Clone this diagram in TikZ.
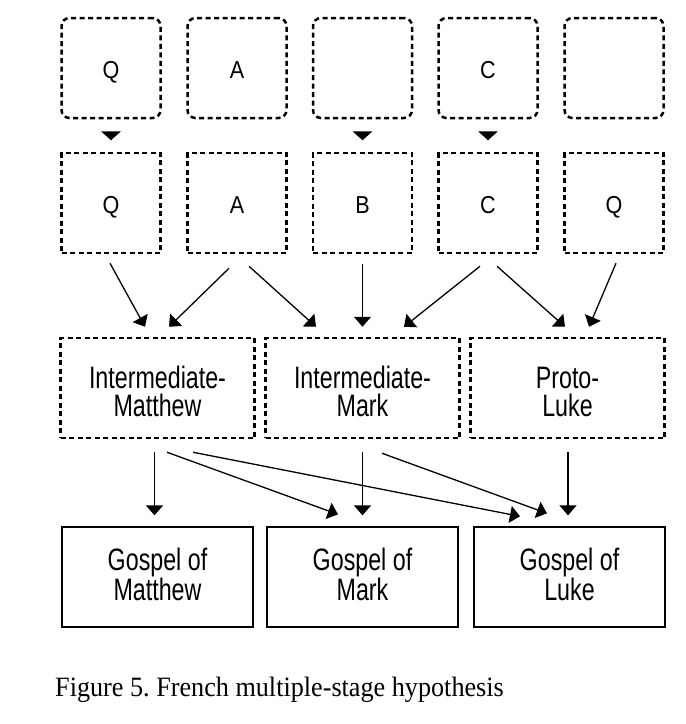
\documentclass[tikz,border=0pt]{standalone}
\usepackage{fontspec}
\usepackage{tikz}
\usetikzlibrary{arrows.meta}
\newfontfamily\boxfont{Liberation Sans}[FakeStretch=0.75]
\newfontfamily\letterfont{Liberation Sans}[FakeStretch=0.88]
\newfontfamily\capfont{Liberation Serif}[FakeStretch=0.935]

\begin{document}
\begin{tikzpicture}[x=1pt, y=-1pt,
    src/.style={draw, dash pattern=on 5pt off 3.5pt, line width=2.5pt, rounded corners=8pt,
        minimum width=99pt, minimum height=100pt, inner sep=0pt, text height=21pt, text depth=0pt,
        font=\letterfont\fontsize{24.5}{25}\selectfont},
    srcsq/.style={src, rounded corners=0pt},
    interm/.style={srcsq, minimum width=194pt, align=center, text height=56pt,
        font=\boxfont\fontsize{31}{28}\selectfont},
    gospel/.style={draw, line width=1.3pt, minimum width=191pt, minimum height=100pt, inner sep=0pt,
        align=center, text height=46pt, text depth=0pt, font=\boxfont\fontsize{31}{30}\selectfont},
    arr/.style={line width=1.3pt, -{Triangle[length=10pt, width=17pt]}}]
            \useasboundingbox (0,0) rectangle (686,724);

            \node[src] (q1) at (111,68) {Q};
            \node[src] (a1) at (237,68) {A};
            \node[src] (b1) at (362.5,68) {};
            \node[src] (c1) at (488,68) {C};
            \node[src] (e1) at (614,68) {};

            \node[srcsq] (q2) at (111,203) {Q};
            \node[srcsq] (a2) at (237,203) {A};
            \node[srcsq] (b2) at (362.5,203) {B};
            \node[srcsq] (c2) at (488,203) {C};
            \node[srcsq] (q5) at (614,203) {Q};

            \foreach \n in {q1, b1, c1}
                \fill ([shift={(-10,12)}]\n.south) -- ++(20,0) -- ++(-10,9) -- cycle;

            \node[interm] (imatt) at (157.5,388) {Intermediate-\\Matthew};
            \node[interm] (imark) at (362.5,388) {Intermediate-\\Mark};
            \node[interm] (pluke) at (567.5,388) {Proto-\\Luke};

            \node[gospel] (gmatt) at (157.5,577) {Gospel of\\Matthew};
            \node[gospel] (gmark) at (362.5,577) {Gospel of\\Mark};
            \node[gospel] (gluke) at (569.5,577) {Gospel of\\Luke};

            \draw[arr] ([shift={(-1,9)}]q2.south) -- ([shift={(-12.5,-10)}]imatt.north);
            \draw[arr] ([shift={(-8,14)}]a2.south) -- ([shift={(11.5,-10)}]imatt.north);
            \draw[arr] ([shift={(12,12)}]a2.south) -- ([shift={(-46.5,-10)}]imark.north);
            \draw[arr] ([shift={(0,10)}]b2.south) -- ([shift={(0,-10)}]imark.north);
            \draw[arr] ([shift={(-8,12)}]c2.south) -- ([shift={(41.5,-10)}]imark.north);
            \draw[arr] ([shift={(9,12)}]c2.south) -- ([shift={(-2.5,-10)}]pluke.north);
            \draw[arr] ([shift={(2,9)}]q5.south) -- ([shift={(21.5,-10)}]pluke.north);

            \draw[arr] ([shift={(-3,13)}]imatt.south) -- ([shift={(-3,-11)}]gmatt.north);
            \draw[arr] ([shift={(9.5,13)}]imatt.south) -- ([shift={(-24.5,-12)}]gmark.north);
            \draw[arr] ([shift={(35.5,13)}]imatt.south) -- ([shift={(-49.5,-10)}]gluke.north);
            \draw[arr] ([shift={(0,13)}]imark.south) -- ([shift={(0,-11)}]gmark.north);
            \draw[arr] ([shift={(19.5,14)}]imark.south) -- ([shift={(-22.5,-13)}]gluke.north);
            \draw[arr] ([shift={(0.5,13)}]pluke.south) -- ([shift={(-1.5,-11)}]gluke.north);

            \node[anchor=base west, inner sep=0pt, font=\capfont\fontsize{28}{28}\selectfont] (cap) at (55,696)
                {\frenchspacing Figure 5. French multiple-stage hypothesis};
        \end{tikzpicture}
\end{document}
